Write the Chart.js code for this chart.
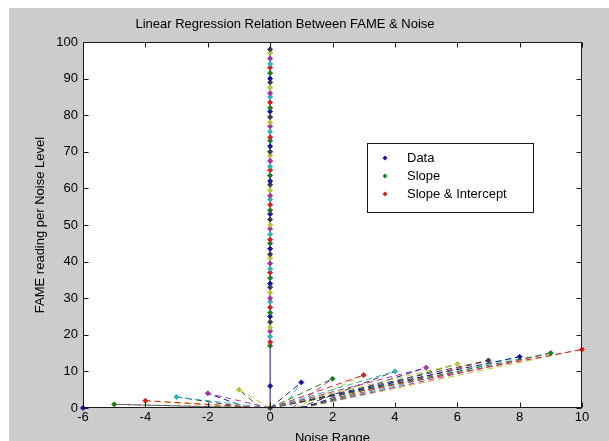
<!DOCTYPE html>
<html>
<head>
<meta charset="utf-8">
<title>Linear Regression Relation Between FAME &amp; Noise</title>
<script src="https://cdn.jsdelivr.net/npm/chart.js@4.4.0/dist/chart.umd.min.js"></script>
<style>
    html, body { margin: 0; padding: 0; background: #fff; }
    #chart { display: block; }
</style>
</head>
<body>
<canvas id="chart" width="609" height="441"></canvas>
<script>
// noise levels that have a single reading, with the reading at each
const noiseRange = [-6, -5, -4, -3, -2, -1, 1, 2, 3, 4, 5, 6, 7, 8, 9, 10];
const fameReading = [0, 1, 2, 3, 4, 5, 7, 8, 9, 10, 11, 12, 13, 14, 15, 16];
const interceptStart = [-0.5, -0.5, -0.6, -0.6, -0.7, -0.3, 0.4, 0.7, 0.8, 0.9, 1, 1, 1, 1, 1, 1];
// readings stacked at noise 0
const zeroNoiseReading = [0, 6, 17, 18, 19.5, 21, 22, 23.5, 25, 26, 27.5, 29, 30, 31.5, 33, 34,
    35.5, 37, 38, 39.5, 41, 42, 43.5, 45, 46, 47.5, 49, 50, 51.5, 53, 54, 55.5, 57, 58, 59.5,
    61, 62, 63.5, 65, 66, 67.5, 69, 70, 71.5, 73, 74, 75.5, 77, 78, 79.5, 81, 82, 83.5, 85,
    86, 87.5, 89, 90, 91.5, 93, 94, 95.5, 97, 98];
const zeroLineTop = 98;

const xTicks = [-6, -4, -2, 0, 2, 4, 6, 8, 10];
const yTicks = [0, 10, 20, 30, 40, 50, 60, 70, 80, 90, 100];
const chartTitle = 'Linear Regression Relation Between FAME & Noise';
const legendLabels = ['Data', 'Slope', 'Slope & Intercept'];

// matlab style colour order
const colorOrder = ['#1515a5', '#1e7a1e', '#d42020', '#2cb5b5', '#a830a8', '#c0c030', '#3a3a4a'];

const FONT = '"Liberation Sans", Arial, sans-serif';

function colorFor(x) {
    return colorOrder[(x + 6) % colorOrder.length];
}

let datasets = [];

// points on top, so first
const pointData = [];
const pointColors = [];
noiseRange.forEach((x, i) => {
    pointData.push({ x: x, y: fameReading[i] });
    pointColors.push(colorFor(x));
});
zeroNoiseReading.forEach((y, i) => {
    pointData.push({ x: 0, y: y });
    pointColors.push(colorOrder[(i + 6) % colorOrder.length]);
});
datasets.push({
    label: 'Data',
    data: pointData,
    showLine: false,
    pointStyle: 'rectRot',
    pointRadius: 2.5,
    pointBorderWidth: 1,
    pointBackgroundColor: pointColors,
    pointBorderColor: pointColors,
    clip: false
});

// solid line up the noise 0 column
datasets.push({
    label: 'zero',
    data: [{ x: 0, y: 0 }, { x: 0, y: zeroLineTop }],
    showLine: true,
    borderColor: '#1a1a7a',
    borderWidth: 1,
    pointRadius: 0
});

// slope fits, through the origin
noiseRange.forEach((x, i) => {
    datasets.push({
        label: 'Slope',
        data: [{ x: 0, y: 0 }, { x: x, y: fameReading[i] }],
        showLine: true,
        borderColor: colorFor(x),
        borderWidth: 1,
        borderDash: [6, 4],
        pointRadius: 0
    });
});

// slope & intercept fits
noiseRange.forEach((x, i) => {
    datasets.push({
        label: 'Slope & Intercept',
        data: [{ x: interceptStart[i], y: 0 }, { x: x, y: fameReading[i] }],
        showLine: true,
        borderColor: colorOrder[(x + 9) % colorOrder.length],
        borderWidth: 1,
        borderDash: [6, 4],
        pointRadius: 0
    });
});

const frame = {
    id: 'frame',
    beforeDraw(chart) {
        const { ctx, chartArea: a } = chart;
        ctx.save();
        ctx.fillStyle = '#ffffff';
        ctx.fillRect(0, 0, chart.width, chart.height);
        ctx.fillStyle = '#cccccc';
        ctx.fillRect(9, 8, chart.width - 9, chart.height - 8);
        ctx.fillStyle = '#ffffff';
        ctx.fillRect(a.left, a.top, a.right - a.left, a.bottom - a.top);
        // title sits a little left of the plot centre, as in the original
        ctx.fillStyle = '#000000';
        ctx.font = '13px ' + FONT;
        ctx.textAlign = 'center';
        ctx.textBaseline = 'middle';
        ctx.fillText(chartTitle, 285, 24);
        ctx.restore();
    },
    afterDatasetsDraw(chart) {
        const { ctx, chartArea: a, scales } = chart;
        const l = Math.round(a.left) + 0.5, r = Math.round(a.right) - 0.5;
        const t = Math.round(a.top) + 0.5, b = Math.round(a.bottom) - 0.5;
        ctx.save();
        ctx.strokeStyle = '#1a1a1a';
        ctx.lineWidth = 1;
        ctx.strokeRect(l, t, r - l, b - t);
        ctx.beginPath();
        xTicks.forEach(v => {
            const px = Math.round(scales.x.getPixelForValue(v)) + 0.5;
            ctx.moveTo(px, b); ctx.lineTo(px, b - 5);
            ctx.moveTo(px, t); ctx.lineTo(px, t + 5);
        });
        yTicks.forEach(v => {
            const py = Math.round(scales.y.getPixelForValue(v)) + 0.5;
            ctx.moveTo(l, py); ctx.lineTo(l + 5, py);
            ctx.moveTo(r, py); ctx.lineTo(r - 5, py);
        });
        ctx.stroke();
        ctx.restore();
    },
    afterDraw(chart) {
        // legend box inside the plot
        const ctx = chart.ctx;
        ctx.save();
        ctx.fillStyle = '#ffffff';
        ctx.fillRect(367, 143, 166, 69);
        ctx.strokeStyle = '#1a1a1a';
        ctx.lineWidth = 1;
        ctx.strokeRect(367.5, 143.5, 166, 69);
        ctx.font = '13px ' + FONT;
        ctx.textBaseline = 'middle';
        legendLabels.forEach((label, i) => {
            const y = 158 + i * 18;
            const c = colorOrder[i];
            ctx.fillStyle = c;
            ctx.beginPath();
            ctx.moveTo(385, y - 2.5);
            ctx.lineTo(387.5, y);
            ctx.lineTo(385, y + 2.5);
            ctx.lineTo(382.5, y);
            ctx.closePath();
            ctx.fill();
            ctx.fillStyle = '#000000';
            ctx.fillText(label, 407, y);
        });
        ctx.restore();
    }
};

new Chart(document.getElementById('chart'), {
    type: 'scatter',
    data: { datasets: datasets },
    options: {
        responsive: false,
        devicePixelRatio: 1,
        animation: false,
        layout: { padding: { left: 0, right: 27, top: 42, bottom: 0 } },
        plugins: {
            legend: { display: false },
            tooltip: { enabled: false },
            title: { display: false }
        },
        scales: {
            x: {
                type: 'linear',
                min: -6,
                max: 10,
                afterBuildTicks: s => { s.ticks = xTicks.map(v => ({ value: v })); },
                afterFit: s => { s.height = 33; },
                grid: { display: false, drawTicks: false },
                border: { display: false },
                ticks: { color: '#000000', padding: 2, font: { family: FONT, size: 13 } },
                title: {
                    display: true,
                    text: 'Noise Range',
                    color: '#000000',
                    font: { family: FONT, size: 13 },
                    padding: { top: 0, bottom: -5 }
                }
            },
            y: {
                type: 'linear',
                min: 0,
                max: 100,
                afterBuildTicks: s => { s.ticks = yTicks.map(v => ({ value: v })); },
                afterFit: s => { s.width = 83; },
                grid: { display: false, drawTicks: false },
                border: { display: false },
                ticks: { color: '#000000', padding: 5, font: { family: FONT, size: 13 } },
                title: {
                    display: true,
                    text: 'FAME reading per Noise Level',
                    color: '#000000',
                    font: { family: FONT, size: 13 },
                    padding: { top: 33, bottom: 0 }
                }
            }
        }
    },
    plugins: [frame]
});
</script>
</body>
</html>
